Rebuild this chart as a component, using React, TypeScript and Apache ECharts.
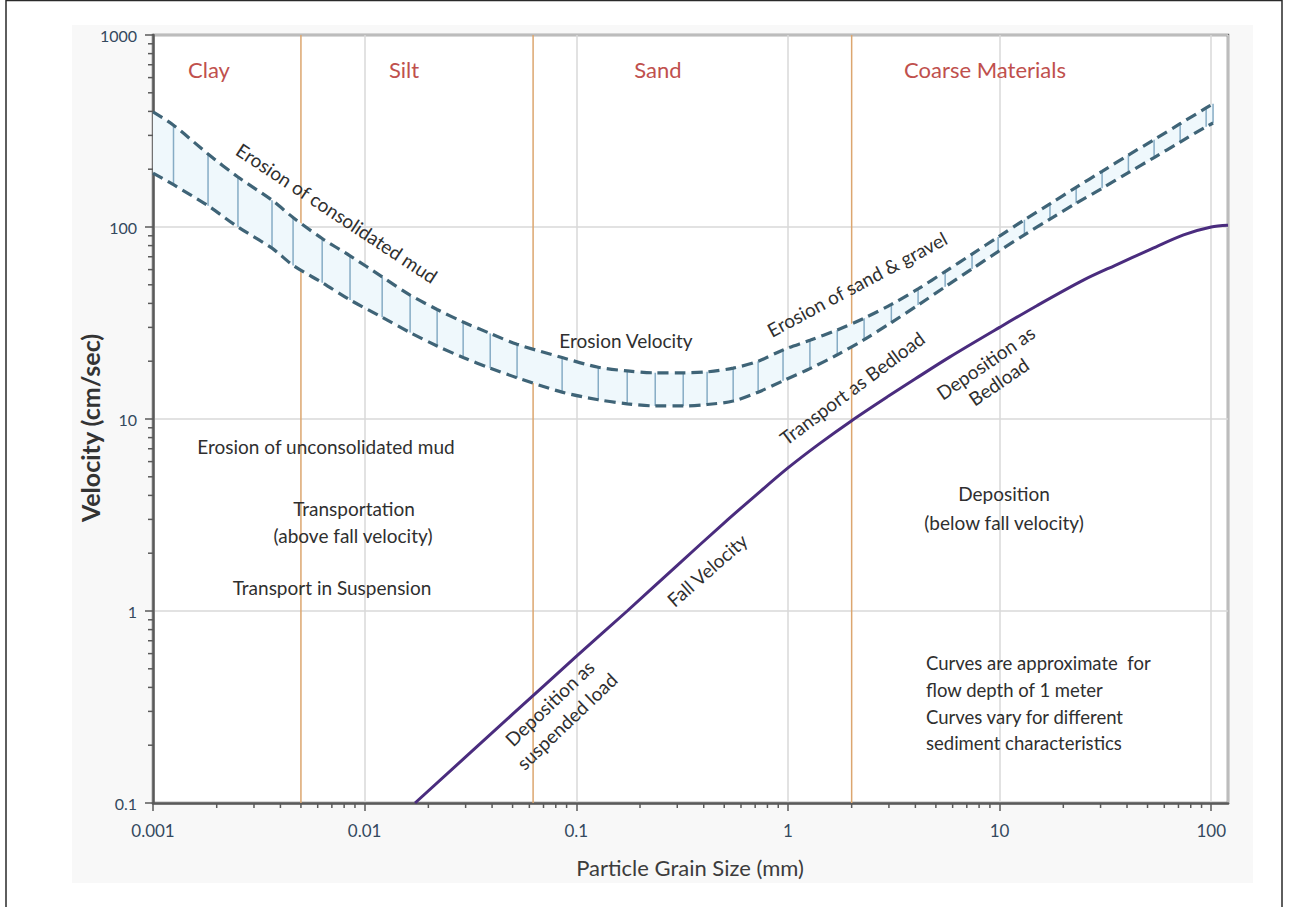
import React, { useEffect, useRef } from "react";
import * as echarts from "echarts";

// ---- Data ----
const grainSizes = [0.001, 0.00125, 0.00182, 0.00252, 0.00365, 0.00459, 0.0063, 0.00853, 0.0121, 0.0164, 0.022, 0.0292, 0.0392, 0.0525, 0.0857, 0.127, 0.174, 0.236, 0.32, 0.415, 0.551, 0.723, 0.948, 1.27, 1.71, 2.29, 3.08, 4.12, 5.53, 7.41, 9.84, 13.1, 17.3, 23.0, 30.5, 40.6, 53.7, 71.3, 94.6, 102];
const erosionUpper = [398, 339, 240, 182, 138, 112, 87.1, 70.8, 55.0, 44.2, 37.2, 32.0, 27.9, 24.5, 20.9, 18.6, 17.8, 17.4, 17.4, 17.6, 18.4, 20.0, 22.9, 25.7, 29.1, 33.5, 39.5, 47.6, 58.6, 72.3, 88.7, 109, 132, 161, 195, 237, 285, 345, 417, 438];
const erosionLower = [191, 166, 129, 100, 77.6, 63.1, 51.3, 41.7, 33.9, 28.2, 24.0, 20.9, 18.4, 16.4, 13.8, 12.6, 12.0, 11.7, 11.7, 11.9, 12.4, 13.8, 15.8, 18.3, 21.6, 25.9, 31.8, 39.2, 48.8, 60.5, 74.5, 91, 110, 133, 159, 192, 230, 277, 333, 348];

const fallSizes = [0.0173, 0.05, 0.1, 0.174, 0.3, 0.5, 0.7, 1, 1.4, 2, 3, 4, 5.8, 10, 15, 25, 35, 51, 74, 100, 120];
const fallVelocity = [0.1, 0.29, 0.58, 1, 1.73, 2.88, 3.98, 5.56, 7.4, 9.8, 13.2, 16.2, 21, 30, 38.9, 53, 63, 76, 91, 100, 102];

const boundarySizes = [0.005, 0.0625, 2];

const xTickLabels = ["0.001", "0.01", "0.1", "1", "10", "100"];
const yTickLabels = ["0.1", "1", "10", "100", "1000"];
const minorMultipliers = [2, 3, 4, 5, 6, 7, 8, 9];
const xDecades = [0.001, 0.01, 0.1, 1, 10];
const yDecades = [0.1, 1, 10, 100];

const X_MIN = 0.001;
const X_MAX = 120;
const Y_MIN = 0.1;
const Y_MAX = 1000;

const FONT = 'Lato, "Open Sans", sans-serif';

function labelFor(labels: string[], offset: number) {
  return (v: number) => {
    const e = Math.log10(v);
    const r = Math.round(e);
    if (Math.abs(e - r) > 1e-6) return "";
    return labels[r + offset] ?? "";
  };
}

function txt(text: string, x: number, y: number, o: any = {}) {
  const align = o.align || "center";
  return {
    type: "text",
    x,
    y,
    rotation: o.rotation || 0,
    silent: true,
    z: 50,
    style: {
      text,
      fill: o.color || "#2f2f2f",
      fontSize: o.size || 19,
      fontFamily: FONT,
      fontWeight: o.weight || "normal",
      align,
      textAlign: align,
      verticalAlign: "middle",
      textVerticalAlign: "middle",
      lineHeight: o.lh || 24,
    },
  };
}

function buildOption() {
  const xMinor: number[] = [];
  xDecades.forEach((d) => minorMultipliers.forEach((m) => { const v = d * m; if (v < X_MAX) xMinor.push(v); }));
  const yMinor: number[] = [];
  yDecades.forEach((d) => minorMultipliers.forEach((m) => yMinor.push(d * m)));

  const upperPairs = grainSizes.map((g, i) => [g, erosionUpper[i]]);
  const lowerPairs = grainSizes.map((g, i) => [g, erosionLower[i]]);
  const hatchData = grainSizes.slice(1).map((g, i) => [g, erosionUpper[i + 1], erosionLower[i + 1]]);
  const fallPairs = fallSizes.map((g, i) => [g, fallVelocity[i]]);

  const red = "#c0504d";

  return {
    animation: false,
    backgroundColor: "#ffffff",
    grid: {
      left: 153,
      right: 66,
      top: 35,
      bottom: 104,
      show: true,
      backgroundColor: "#ffffff",
      borderColor: "#6a6a6a",
      borderWidth: 2.5,
      containLabel: false,
      outerBoundsMode: "none",
    },
    xAxis: {
      type: "log",
      logBase: 10,
      min: X_MIN,
      max: X_MAX,
      axisLine: { show: true, onZero: false, lineStyle: { color: "#5a5a5a", width: 2.5 } },
      axisTick: { show: true, inside: false, length: 8, lineStyle: { color: "#5a5a5a", width: 1.5 } },
      axisLabel: { formatter: labelFor(xTickLabels, 3), color: "#34495e", fontSize: 17, fontFamily: FONT, margin: 19, showMaxLabel: false },
      splitLine: { show: true, lineStyle: { color: "#d9d9d9", width: 1.5 } },
    },
    yAxis: {
      type: "log",
      logBase: 10,
      min: Y_MIN,
      max: Y_MAX,
      axisLine: { show: true, onZero: false, lineStyle: { color: "#5a5a5a", width: 2.5 } },
      axisTick: { show: true, inside: false, length: 8, lineStyle: { color: "#5a5a5a", width: 1.5 } },
      axisLabel: { formatter: labelFor(yTickLabels, 1), color: "#34495e", fontSize: 16, fontFamily: FONT, margin: 16 },
      splitLine: { show: true, lineStyle: { color: "#d9d9d9", width: 1.5 } },
    },
    graphic: [
      { type: "rect", z: -20, silent: true, shape: { x: 72, y: 25, width: 1181, height: 858 }, style: { fill: "#f8f8f8" } },
      { type: "rect", z: -19, silent: true, shape: { x: 6, y: 0.5, width: 1276, height: 920 }, style: { fill: "none", stroke: "#2a2a2a", lineWidth: 1.5 } },
      txt("Clay", 209, 69, { color: red, size: 22 }),
      txt("Silt", 404, 69, { color: red, size: 22 }),
      txt("Sand", 658, 69, { color: red, size: 22 }),
      txt("Coarse Materials", 985, 69, { color: red, size: 22 }),
      txt("Erosion of consolidated mud", 337, 213, { rotation: -0.585 }),
      txt("Erosion Velocity", 626, 340),
      txt("Erosion of sand & gravel", 857, 284, { rotation: 0.49 }),
      txt("Transport as Bedload", 852, 388, { rotation: 0.64 }),
      txt("Deposition as\nBedload", 992, 372, { rotation: 0.6, lh: 23 }),
      txt("Erosion of unconsolidated mud", 326, 446),
      txt("Transportation", 354, 508),
      txt("(above fall velocity)", 353, 535),
      txt("Transport in Suspension", 332, 587),
      txt("Fall Velocity", 707, 570, { rotation: 0.72 }),
      txt("Deposition as\nsuspended load", 558, 712, { rotation: 0.76, lh: 25 }),
      txt("Deposition", 1004, 493),
      txt("(below fall velocity)", 1004, 522),
      txt("Curves are approximate  for", 926, 663, { align: "left", size: 18.5 }),
      txt("flow depth of 1 meter", 926, 690, { align: "left", size: 18.5 }),
      txt("Curves vary for different", 926, 717, { align: "left", size: 18.5 }),
      txt("sediment characteristics", 926, 743, { align: "left", size: 18.5 }),
      txt("Velocity (cm/sec)", 90, 428, { rotation: Math.PI / 2, size: 25, weight: "bold", color: "#333333" }),
      txt("Particle Grain Size (mm)", 690, 867, { size: 22, color: "#3c3c3c" }),
    ],
    series: [
      {
        name: "boundaries",
        type: "custom",
        silent: true,
        z: 1,
        data: boundarySizes.map((v) => [v]),
        encode: { x: 0 },
        renderItem: (params: any, api: any) => {
          const v = api.value(0);
          const p1 = api.coord([v, Y_MIN]);
          const p2 = api.coord([v, Y_MAX]);
          return { type: "line", shape: { x1: p1[0], y1: p1[1], x2: p2[0], y2: p2[1] }, style: { stroke: "#dca66f", lineWidth: 1.5 } };
        },
      },
      {
        name: "band",
        type: "custom",
        silent: true,
        z: 2,
        data: [[grainSizes[0], erosionUpper[0]]],
        renderItem: (params: any, api: any) => {
          const pts: number[][] = [];
          for (let i = 0; i < grainSizes.length; i++) pts.push(api.coord([grainSizes[i], erosionUpper[i]]));
          for (let i = grainSizes.length - 1; i >= 0; i--) pts.push(api.coord([grainSizes[i], erosionLower[i]]));
          return { type: "polygon", shape: { points: pts }, style: { fill: "#eff8fc" } };
        },
      },
      {
        name: "hatch",
        type: "custom",
        silent: true,
        z: 3,
        data: hatchData,
        encode: { x: 0, y: [1, 2] },
        renderItem: (params: any, api: any) => {
          const x = api.value(0);
          const p1 = api.coord([x, api.value(1)]);
          const p2 = api.coord([x, api.value(2)]);
          return { type: "line", shape: { x1: p1[0], y1: p1[1], x2: p2[0], y2: p2[1] }, style: { stroke: "#86acc5", lineWidth: 1.5 } };
        },
      },
      {
        name: "Erosion upper",
        type: "line",
        z: 4,
        data: upperPairs,
        smooth: 0.3,
        showSymbol: false,
        symbol: "none",
        lineStyle: { color: "#3f6477", width: 3.2, type: [11, 6] },
      },
      {
        name: "Erosion lower",
        type: "line",
        z: 4,
        data: lowerPairs,
        smooth: 0.3,
        showSymbol: false,
        symbol: "none",
        lineStyle: { color: "#3f6477", width: 3.2, type: [11, 6] },
      },
      {
        name: "Fall Velocity",
        type: "line",
        z: 5,
        data: fallPairs,
        smooth: 0.3,
        showSymbol: false,
        symbol: "none",
        lineStyle: { color: "#4a2c7e", width: 3 },
      },
      {
        name: "xMinorTicks",
        type: "custom",
        silent: true,
        clip: false,
        z: 6,
        data: xMinor.map((v) => [v, Y_MIN]),
        renderItem: (params: any, api: any) => {
          const p = api.coord([api.value(0), api.value(1)]);
          return { type: "line", shape: { x1: p[0], y1: p[1], x2: p[0], y2: p[1] + 5 }, style: { stroke: "#5a5a5a", lineWidth: 1.5 } };
        },
      },
      {
        name: "yMinorTicks",
        type: "custom",
        silent: true,
        clip: false,
        z: 6,
        data: yMinor.map((v) => [X_MIN, v]),
        renderItem: (params: any, api: any) => {
          const p = api.coord([api.value(0), api.value(1)]);
          return { type: "line", shape: { x1: p[0] - 5, y1: p[1], x2: p[0], y2: p[1] }, style: { stroke: "#5a5a5a", lineWidth: 1.5 } };
        },
      },
    ],
  };
}

export default function App() {
  const ref = useRef<HTMLDivElement>(null);
  useEffect(() => {
    if (!ref.current) return;
    const chart = echarts.init(ref.current, null, { renderer: "svg" });
    chart.setOption(buildOption() as any);
    return () => chart.dispose();
  }, []);
  return (
    <div
      ref={ref}
      style={{ position: "fixed", left: 0, top: 0, width: 1294, height: 907, background: "#ffffff" }}
    />
  );
}
